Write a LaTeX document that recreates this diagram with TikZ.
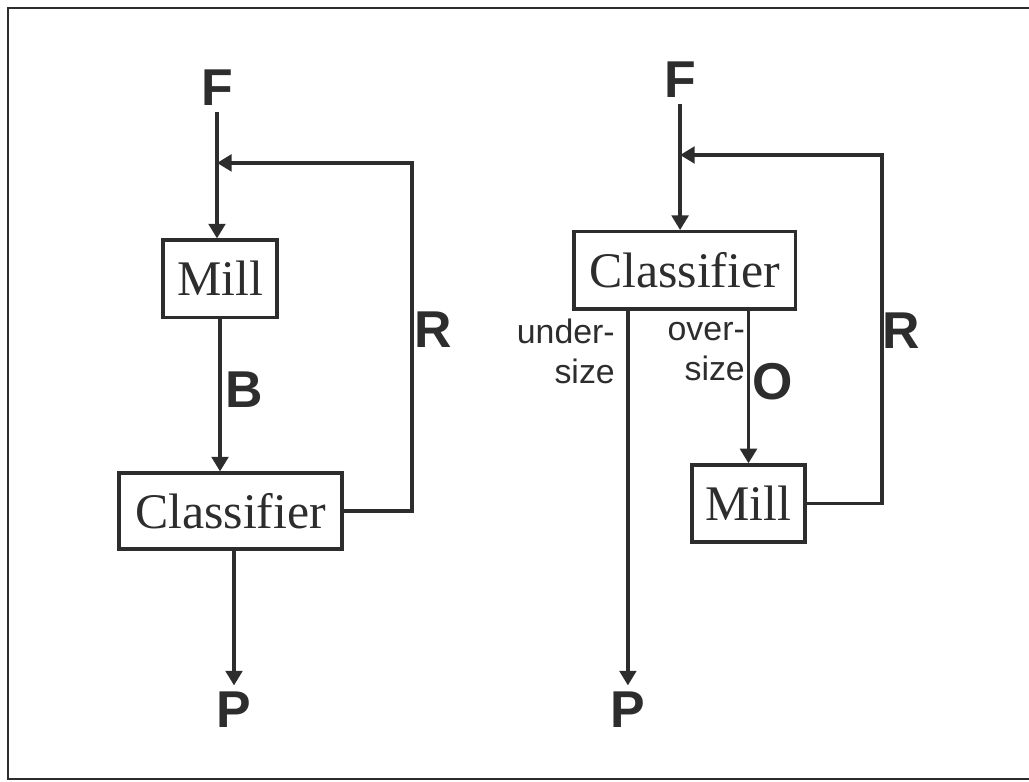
\documentclass[tikz,border=0pt]{standalone}
\usepackage{fontspec}
\setmainfont{Liberation Serif}
\newfontfamily\arialfont{Liberation Sans}
\usepackage{xcolor}
\definecolor{inkgrey}{RGB}{45,45,45}
\usetikzlibrary{arrows.meta,positioning,calc}
\tikzset{
  unitbox/.style={draw=inkgrey, line width=2.5pt, fill=white, inner sep=0pt, font=\fontsize{37.5}{40}\selectfont, text=inkgrey},
  streamlbl/.style={inner sep=0.15cm, font=\arialfont\bfseries\fontsize{39}{42}\selectfont, text=inkgrey},
  sizelbl/.style={inner sep=0pt, align=right, anchor=east, font=\arialfont\fontsize{25.5}{30}\selectfont, text=inkgrey},
  flowarr/.style={draw=inkgrey, line width=2.6pt, -{Triangle[length=11pt,width=12.5pt]}},
  flowline/.style={draw=inkgrey, line width=2.6pt}
}

\begin{document}
\begin{tikzpicture}
  \useasboundingbox (0,0) rectangle (27.22,20.66);
  % frame
  \draw[inkgrey, line width=1.5pt] (27.22,20.45) -- (0.21,20.45) -- (0.21,0.05) -- (27.22,0.05);

  % left circuit: mill then classifier
  \node[streamlbl] (F1) at (5.74,18.33) {F};
  \node[unitbox, minimum width=3.02cm, minimum height=2.04cm] (Mill1) at (5.82,13.29) {Mill};
  \node[unitbox, minimum width=5.90cm, minimum height=2.01cm] (Cl1) at (6.10,7.14) {Classifier};
  \node[streamlbl] (P1) at (6.19,1.90) {P};
  \node[streamlbl, inner sep=0pt] (B1) at (6.46,10.34) {B};
  \node[streamlbl, inner sep=0pt] (R1) at (11.46,11.93) {R};
  \coordinate (j1) at (F1 |- 0,16.35);
  \coordinate (r1) at (10.90,16.35);

  \draw[flowarr] (F1) -- (F1 |- Mill1.north);
  \draw[flowarr] (Mill1.south) -- (Mill1.south |- Cl1.north);
  \draw[flowarr] (Cl1.south -| P1) -- (P1);
  \draw[flowarr] (Cl1.east) -| (r1) -- (j1);

  % right circuit: classifier then mill
  \node[streamlbl] (F2) at (17.99,18.54) {F};
  \node[unitbox, minimum width=5.85cm, minimum height=2.04cm] (Cl2) at (18.11,13.51) {Classifier};
  \node[unitbox, minimum width=2.99cm, minimum height=2.04cm] (Mill2) at (19.80,7.34) {Mill};
  \node[streamlbl] (P2) at (16.61,1.90) {P};
  \node[streamlbl, inner sep=0pt] (O2) at (20.45,10.56) {O};
  \node[streamlbl, inner sep=0pt] (R2) at (23.84,11.90) {R};
  \node[sizelbl] (under) at (16.27,11.36) {under-\\size};
  \node[sizelbl] (over) at (19.71,11.36) {over-\\size};
  \coordinate (j2) at (F2 |- 0,16.56);
  \coordinate (r2) at (23.33,16.56);

  \draw[flowarr] (F2) -- (F2 |- Cl2.north);
  \draw[flowarr] (Cl2.south -| P2) -- (P2);
  \draw[flowarr] (Mill2 |- Cl2.south) -- (Mill2.north);
  \draw[flowarr] (Mill2.east) -| (r2) -- (j2);
\end{tikzpicture}
\end{document}
